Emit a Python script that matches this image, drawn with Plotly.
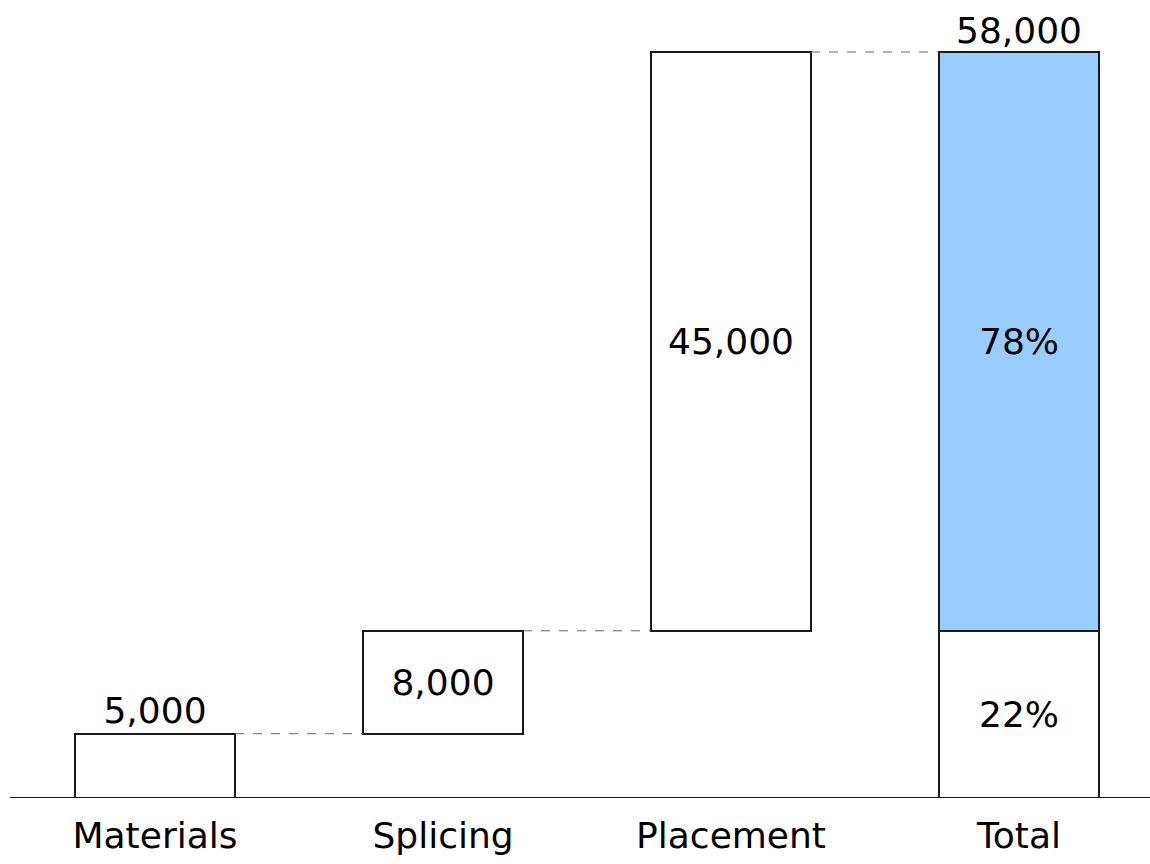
import plotly.graph_objects as go

# Cost build-up: each step sits on top of the running total
categories = ["Materials", "Splicing", "Placement"]
step_values = [5000, 8000, 45000]
total_label = "Total"

FONT = "DejaVu Sans"
FONT_SIZE = 36
BAR_W = 0.556
BLUE = "#99CCFF"
OUTLINE = "#1a1a1a"

# running bases for the floating bars
bases = []
running = 0
for v in step_values:
    bases.append(running)
    running += v
grand_total = running

fmt = lambda v: f"{v:,}"

xs = list(range(len(categories)))
x_total = len(categories)

fig = go.Figure()

# floating step bars
fig.add_trace(go.Bar(
    x=xs, y=step_values, base=bases, width=BAR_W,
    marker=dict(color="white", line=dict(color=OUTLINE, width=2)),
    text=[fmt(v) for v in step_values],
    textposition=["outside", "inside", "inside"],
    insidetextanchor="middle",
    textfont=dict(family=FONT, size=FONT_SIZE, color="black"),
    cliponaxis=False, showlegend=False, hoverinfo="skip",
))

# total column split: first two steps vs. the last step
lower = bases[-1]
upper = step_values[-1]
fig.add_trace(go.Bar(
    x=[x_total], y=[lower], base=[0], width=BAR_W,
    marker=dict(color="white", line=dict(color=OUTLINE, width=2)),
    text=[f"{round(100 * lower / grand_total)}%"],
    textposition="inside", insidetextanchor="middle",
    textfont=dict(family=FONT, size=FONT_SIZE, color="black"),
    showlegend=False, hoverinfo="skip",
))
fig.add_trace(go.Bar(
    x=[x_total], y=[upper], base=[lower], width=BAR_W,
    marker=dict(color=BLUE, line=dict(color=OUTLINE, width=2)),
    text=[f"{round(100 * upper / grand_total)}%"],
    textposition="inside", insidetextanchor="middle",
    textfont=dict(family=FONT, size=FONT_SIZE, color="black"),
    showlegend=False, hoverinfo="skip",
))

# grand total label above the total column
fig.add_trace(go.Scatter(
    x=[x_total], y=[grand_total], mode="text",
    text=[fmt(grand_total)], textposition="top center",
    textfont=dict(family=FONT, size=FONT_SIZE, color="black"),
    cliponaxis=False, showlegend=False, hoverinfo="skip",
))

# dashed connectors between consecutive bar tops
tops = [b + v for b, v in zip(bases, step_values)]
for i, top in enumerate(tops):
    fig.add_shape(
        type="line", xref="x", yref="y",
        x0=i + BAR_W / 2, x1=i + 1 - BAR_W / 2, y0=top, y1=top,
        line=dict(color="#666666", width=1, dash="dash"),
    )

# baseline
fig.add_shape(
    type="line", xref="paper", yref="y", x0=0, x1=1, y0=0, y1=0,
    line=dict(color=OUTLINE, width=2),
)

ymax = grand_total * 798 / 746
fig.update_layout(
    width=1150, height=864,
    margin=dict(l=10, r=0, t=0, b=66),
    paper_bgcolor="white", plot_bgcolor="white",
    barmode="overlay", bargap=0,
    font=dict(family=FONT, size=FONT_SIZE, color="black"),
    xaxis=dict(
        range=[-145 / 288, -145 / 288 + 1140 / 288],
        tickvals=xs + [x_total], ticktext=categories + [total_label],
        showgrid=False, zeroline=False, showline=False, ticks="",
        tickfont=dict(family=FONT, size=FONT_SIZE, color="black"),
        ticklabelstandoff=13,
    ),
    yaxis=dict(range=[0, ymax], visible=False, showgrid=False, zeroline=False),
)

fig.write_html("out.html")
